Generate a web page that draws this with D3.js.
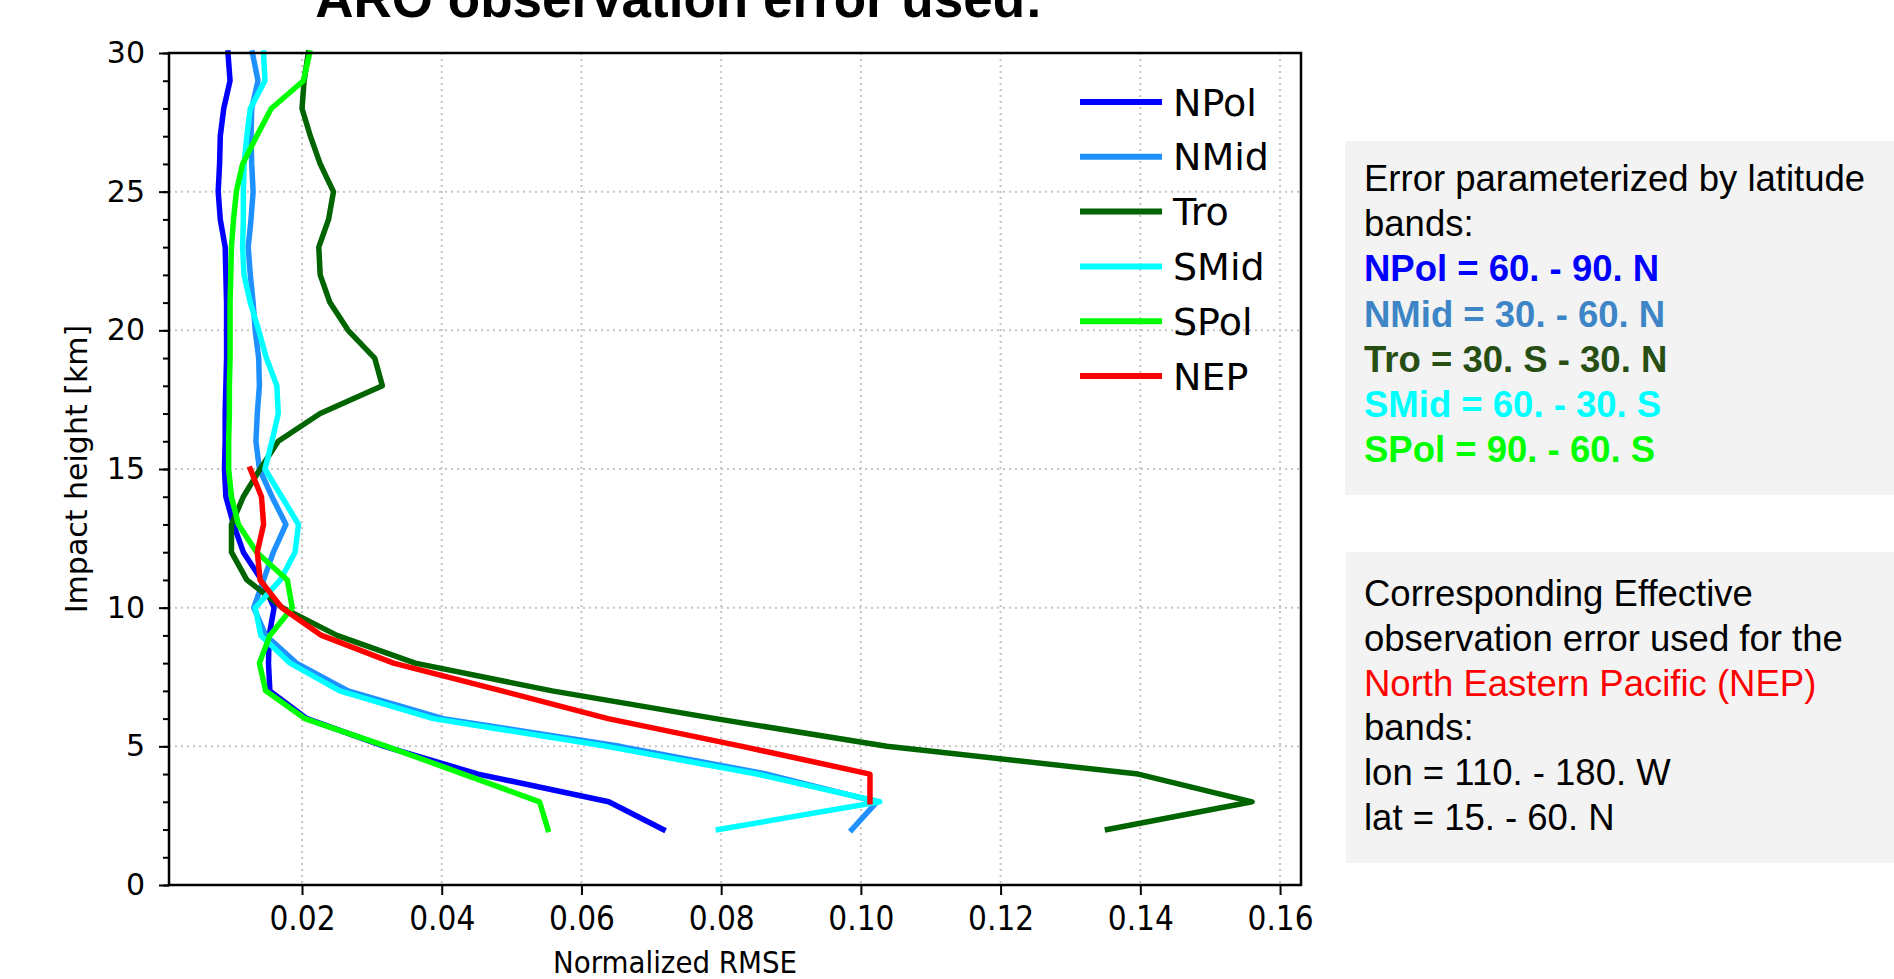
<!DOCTYPE html>
<html>
<head>
<meta charset="utf-8">
<script src="https://cdn.jsdelivr.net/npm/d3@7"></script>
<style>
  body { margin: 0; background: #fff; }
  svg { display: block; }
</style>
</head>
<body>
<svg id="chart" width="1894" height="979"></svg>
<script>
// impact heights (km)
var levels = [2, 3, 4, 5, 6, 7, 8, 9, 10, 11, 12, 13, 14, 15, 16, 17, 18, 19, 20,
  21, 22, 23, 24, 25, 26, 27, 28, 29, 30];
var nepLevels = [3, 4, 5, 6, 7, 8, 9, 10, 11, 12, 13, 14, 15];

var npol = [0.0717, 0.0639, 0.0452, 0.0318, 0.0207, 0.0154, 0.0152, 0.0153, 0.0160, 0.0142,
  0.0116, 0.0102, 0.0091, 0.0089, 0.0090, 0.0090, 0.0091, 0.0092, 0.0092, 0.0092,
  0.0091, 0.0090, 0.0083, 0.0080, 0.0082, 0.0083, 0.0088, 0.0097, 0.0094];
var nmid = [0.0987, 0.1023, 0.0865, 0.0655, 0.0402, 0.0266, 0.0192, 0.0148, 0.0131, 0.0145,
  0.0159, 0.0177, 0.0157, 0.0139, 0.0134, 0.0136, 0.0139, 0.0138, 0.0133, 0.0130,
  0.0126, 0.0123, 0.0127, 0.0130, 0.0128, 0.0127, 0.0128, 0.0137, 0.0129];
var tro = [0.1353, 0.1560, 0.1397, 0.1037, 0.0792, 0.0558, 0.0362, 0.0250, 0.0172, 0.0121,
  0.0099, 0.0099, 0.0116, 0.0140, 0.0166, 0.0226, 0.0315, 0.0304, 0.0266, 0.0240,
  0.0226, 0.0224, 0.0238, 0.0245, 0.0226, 0.0212, 0.0200, 0.0203, 0.0209];
var smid = [0.0796, 0.1027, 0.0851, 0.0636, 0.0388, 0.0254, 0.0183, 0.0141, 0.0133, 0.0169,
  0.0190, 0.0195, 0.0171, 0.0147, 0.0157, 0.0166, 0.0164, 0.0149, 0.0138, 0.0126,
  0.0117, 0.0115, 0.0116, 0.0116, 0.0117, 0.0121, 0.0126, 0.0147, 0.0145];
var spol = [0.0552, 0.0540, 0.0431, 0.0321, 0.0204, 0.0148, 0.0139, 0.0154, 0.0186, 0.0179,
  0.0135, 0.0109, 0.0099, 0.0095, 0.0095, 0.0096, 0.0096, 0.0097, 0.0097, 0.0097,
  0.0098, 0.0099, 0.0102, 0.0106, 0.0115, 0.0135, 0.0156, 0.0202, 0.0211];
var nep = [0.1013, 0.1013, 0.0830, 0.0638, 0.0486, 0.0331, 0.0228, 0.0171, 0.0140, 0.0136,
  0.0145, 0.0142, 0.0126];

var seriesNames = ["NPol", "NMid", "Tro", "SMid", "SPol", "NEP"];
var seriesColors = ["#0000ff", "#1e90ff", "#006400", "#00ffff", "#00ff00", "#ff0000"];

var xTicks = [0.02, 0.04, 0.06, 0.08, 0.10, 0.12, 0.14, 0.16];
var yTicks = [0, 5, 10, 15, 20, 25, 30];

var bandLines = [
  { text: "Error parameterized by latitude", color: "#000", bold: false },
  { text: "bands:", color: "#000", bold: false },
  { text: "NPol = 60. - 90. N", color: "#0000ff", bold: true },
  { text: "NMid = 30. - 60. N", color: "#3d85c6", bold: true },
  { text: "Tro = 30. S - 30. N", color: "#274e13", bold: true },
  { text: "SMid = 60. - 30. S", color: "#00ffff", bold: true },
  { text: "SPol = 90. - 60. S", color: "#00ff00", bold: true }
];
var nepLines = [
  { text: "Corresponding Effective", color: "#000" },
  { text: "observation error used for the", color: "#000" },
  { text: "North Eastern Pacific (NEP)", color: "#ff0000" },
  { text: "bands:", color: "#000" },
  { text: "lon = 110. - 180. W", color: "#000" },
  { text: "lat = 15. - 60. N", color: "#000" }
];

var svg = d3.select("#chart");
var pLeft = 169, pRight = 1301, pTop = 53, pBottom = 885;

var x = d3.scaleLinear().domain([0.00096, 0.1630]).range([pLeft, pRight]);
var y = d3.scaleLinear().domain([0, 30]).range([pBottom, pTop]);

// title, mostly cut off at the top of the picture
svg.append("text")
  .attr("x", 679).attr("y", 17)
  .attr("text-anchor", "middle")
  .attr("font-family", "Liberation Sans, Arial, sans-serif")
  .attr("font-weight", "bold")
  .attr("font-size", 53)
  .text("ARO observation error used:");

// grid
var grid = svg.append("g")
  .attr("stroke", "#c4c4c4")
  .attr("stroke-width", 2)
  .attr("stroke-dasharray", "2,4");
grid.selectAll("line.gx").data(xTicks).enter().append("line")
  .attr("x1", d => x(d)).attr("x2", d => x(d))
  .attr("y1", pTop).attr("y2", pBottom);
grid.selectAll("line.gy").data(yTicks).enter().append("line")
  .attr("x1", pLeft).attr("x2", pRight)
  .attr("y1", d => y(d)).attr("y2", d => y(d));

// profiles
var allSeries = [
  { values: npol, levels: levels },
  { values: nmid, levels: levels },
  { values: tro, levels: levels },
  { values: smid, levels: levels },
  { values: spol, levels: levels },
  { values: nep, levels: nepLevels }
];
var line = d3.line()
  .x(d => x(d[0]))
  .y(d => y(d[1]));

svg.append("g")
  .selectAll("path")
  .data(allSeries)
  .enter()
  .append("path")
  .attr("d", s => line(s.values.map((v, i) => [v, s.levels[i]])))
  .attr("fill", "none")
  .attr("stroke", (s, i) => seriesColors[i])
  .attr("stroke-width", 5.5)
  .attr("stroke-linejoin", "round")
  .attr("stroke-linecap", "square");

// axes
var xAxis = svg.append("g")
  .attr("transform", `translate(0,${pBottom})`)
  .call(d3.axisBottom(x).tickValues(xTicks).tickFormat(d3.format(".2f"))
    .tickSize(10).tickPadding(12));
var yAxis = svg.append("g")
  .attr("transform", `translate(${pLeft},0)`)
  .call(d3.axisLeft(y).tickValues(yTicks).tickFormat(d3.format("d"))
    .tickSize(10).tickPadding(14));
var yMinor = svg.append("g")
  .attr("transform", `translate(${pLeft},0)`)
  .call(d3.axisLeft(y).tickValues(d3.range(0, 31)).tickFormat("")
    .tickSize(6));

[xAxis, yAxis, yMinor].forEach(function(g) {
  g.select(".domain").remove();
  g.selectAll(".tick line").attr("stroke", "#000").attr("stroke-width", 2);
  g.selectAll("text")
    .attr("font-family", "DejaVu Sans, sans-serif")
    .attr("font-size", 30)
    .attr("fill", "#000");
});
// x tick labels are a little taller and narrower than the y ones
xAxis.selectAll("text")
  .attr("font-size", 33)
  .attr("transform", "scale(0.9,1)");

svg.append("rect")
  .attr("x", pLeft).attr("y", pTop)
  .attr("width", pRight - pLeft).attr("height", pBottom - pTop)
  .attr("fill", "none")
  .attr("stroke", "#000")
  .attr("stroke-width", 2.5);

svg.append("text")
  .attr("x", 675).attr("y", 973)
  .attr("text-anchor", "middle")
  .attr("font-family", "DejaVu Sans, sans-serif")
  .attr("font-size", 31)
  .attr("textLength", 244)
  .attr("lengthAdjust", "spacingAndGlyphs")
  .text("Normalized RMSE");

svg.append("text")
  .attr("transform", `translate(87,${(pTop + pBottom) / 2}) rotate(-90)`)
  .attr("text-anchor", "middle")
  .attr("font-family", "DejaVu Sans, sans-serif")
  .attr("font-size", 30)
  .text("Impact height [km]");

// legend
var legend = svg.append("g")
  .selectAll("g")
  .data(seriesNames)
  .enter()
  .append("g")
  .attr("transform", (d, i) => `translate(1080,${102 + i * 54.8})`);
legend.append("line")
  .attr("x1", 0).attr("x2", 82)
  .attr("stroke", (d, i) => seriesColors[i])
  .attr("stroke-width", 6);
legend.append("text")
  .attr("x", 93).attr("dy", "0.36em")
  .attr("font-family", "DejaVu Sans, sans-serif")
  .attr("font-size", 38)
  .text(d => d);

// side notes
svg.append("rect")
  .attr("x", 1345).attr("y", 141).attr("width", 549).attr("height", 354)
  .attr("fill", "#f3f3f3");
svg.append("rect")
  .attr("x", 1346).attr("y", 552).attr("width", 548).attr("height", 311)
  .attr("fill", "#f3f3f3");

svg.append("g")
  .selectAll("text")
  .data(bandLines)
  .enter()
  .append("text")
  .attr("x", 1364)
  .attr("y", (d, i) => 191 + i * 45.2)
  .attr("font-family", "Liberation Sans, Arial, sans-serif")
  .attr("font-size", 36.5)
  .attr("font-weight", d => d.bold ? "bold" : "normal")
  .attr("fill", d => d.color)
  .text(d => d.text);

svg.append("g")
  .selectAll("text")
  .data(nepLines)
  .enter()
  .append("text")
  .attr("x", 1364)
  .attr("y", (d, i) => 606 + i * 44.8)
  .attr("font-family", "Liberation Sans, Arial, sans-serif")
  .attr("font-size", 36.5)
  .attr("fill", d => d.color)
  .text(d => d.text);
</script>
</body>
</html>
